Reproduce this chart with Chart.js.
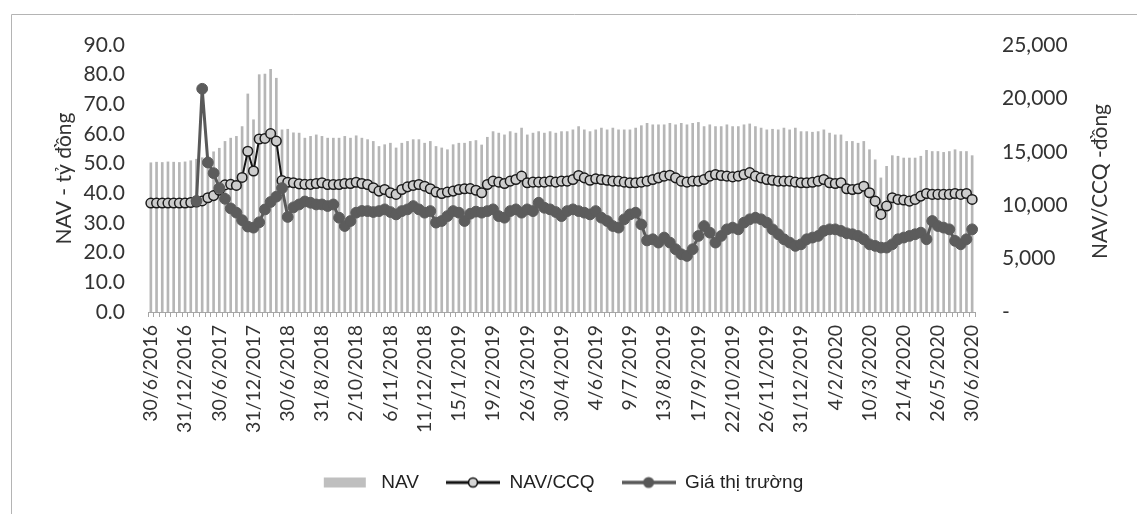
<!DOCTYPE html>
<html>
<head>
<meta charset="utf-8">
<script src="https://cdn.jsdelivr.net/npm/chart.js@4.4.1/dist/chart.umd.min.js"></script>
<style>
  html, body { margin: 0; padding: 0; background: #ffffff; }
  #wrap { position: relative; width: 1137px; height: 514px; overflow: hidden; }
  canvas { display: block; }
</style>
</head>
<body>
<div id="wrap"><canvas id="chart" width="1137" height="514"></canvas></div>
<script>
// Date labels shown on the x axis (one every six observations)
const tickLabels = ['30/6/2016','31/12/2016','30/6/2017','31/12/2017','30/6/2018','31/8/2018',
  '2/10/2018','6/11/2018','11/12/2018','15/1/2019','19/2/2019','26/3/2019','30/4/2019',
  '4/6/2019','9/7/2019','13/8/2019','17/9/2019','22/10/2019','26/11/2019','31/12/2019',
  '4/2/2020','10/3/2020','21/4/2020','26/5/2020','30/6/2020'];
const pointsPerLabel = 6;

// NAV (tỷ đồng)
const nav = [
  50.3, 50.5, 50.4, 50.6, 50.5, 50.4, 50.6, 51.0,
  51.5, 52.0, 52.4, 54.0, 55.2, 57.5, 58.6, 59.2, 62.5, 73.5, 64.8, 80.0, 80.2, 81.8, 78.8, 61.4, 61.6, 60.4,
  60.3, 58.6, 59.2, 59.7, 59.2, 58.6, 58.6, 58.6, 59.2, 58.6, 59.4, 58.6, 58.1, 57.5, 55.8, 56.4,
  56.9, 55.3, 56.9, 57.5, 58.1, 58.1, 56.9, 57.5, 55.8, 55.3, 54.7, 56.4, 56.9, 56.9, 57.5, 57.8,
  56.3, 58.9, 60.8, 60.3, 59.7, 60.8, 60.3, 62.0, 59.7, 60.3, 60.8, 60.3, 60.8, 60.3, 60.8, 60.8,
  61.4, 62.5, 61.4, 60.8, 61.4, 62.0, 61.4, 62.0, 61.4, 61.4, 61.4, 62.0, 62.8, 63.6,
  63.1, 63.1, 63.1, 63.6, 63.1, 63.6, 63.1, 63.6, 63.9, 62.5, 63.1, 62.5, 62.5, 63.1, 62.5, 62.5,
  63.1, 63.4, 62.5, 62.0, 61.4, 61.6, 61.4, 62.0, 61.4, 62.0, 60.8, 60.8, 60.6, 60.8,
  61.4, 60.3, 59.7, 59.7, 57.5, 57.5, 56.9, 57.5, 54.7, 51.3, 45.2, 49.1, 52.7, 52.5, 51.9, 51.9,
  51.9, 52.5, 54.5, 54.1, 54.1, 53.8, 54.1, 54.7, 54.1, 54.1, 52.7
];

// NAV/CCQ (đồng)
const navPerUnit = [
  10200, 10200, 10200, 10200, 10200, 10200, 10200, 10250,
  10300, 10400, 10700, 10900, 11400, 11900, 11950, 11850, 12600, 15050, 13200, 16200, 16250, 16700, 16000, 12300, 12150, 12100,
  12000, 11950, 11950, 12030, 12100, 11940, 11940, 11940, 12030, 12030, 12150, 12030, 11940, 11630, 11320, 11470,
  11170, 11010, 11470, 11720, 11850, 11940, 11780, 11540, 11230, 11100, 11230, 11320, 11470, 11540, 11550, 11400,
  11170, 11940, 12250, 12160, 12030, 12250, 12410, 12720, 12100, 12160, 12160, 12160, 12250, 12160, 12250, 12250,
  12410, 12780, 12560, 12340, 12470, 12410, 12340, 12250, 12250, 12160, 12100, 12100, 12160, 12250,
  12410, 12560, 12720, 12810, 12560, 12250, 12160, 12250, 12250, 12410, 12720, 12870, 12780, 12720, 12650, 12720,
  12870, 13050, 12720, 12560, 12410, 12340, 12250, 12250, 12250, 12160, 12100, 12100, 12150, 12250,
  12410, 12100, 12030, 12100, 11540, 11470, 11540, 11780, 11170, 10380, 9140, 9920, 10700, 10540, 10480, 10380,
  10540, 10850, 11100, 11010, 11010, 11010, 11010, 11100, 11010, 11100, 10540
];

// Giá thị trường (đồng) – no quote before listing
const marketPrice = [
  null, null, null, null, null, null, null, null,
  10400, 20900, 14000, 13000, 11600, 10600, 9700, 9300, 8600, 8000, 7900, 8400, 9600, 10300, 10800, 11600, 8900, 9800,
  10070, 10350, 10230, 10070, 10070, 9920, 10070, 8830, 8050, 8520, 9300, 9460, 9450, 9360, 9450, 9610,
  9360, 9140, 9450, 9610, 9920, 9610, 9300, 9450, 8370, 8520, 8980, 9450, 9300, 8520, 9200, 9400,
  9300, 9450, 9610, 8980, 8830, 9450, 9610, 9300, 9610, 9450, 10230, 9760, 9610, 9360, 8980, 9450,
  9610, 9450, 9300, 9140, 9450, 8830, 8520, 8050, 7900, 8680, 9140, 9300, 8200, 6700,
  6810, 6500, 6970, 6500, 5880, 5410, 5250, 5880, 7120, 8050, 7430, 6500, 7120, 7740, 7900, 7740,
  8370, 8680, 8830, 8680, 8370, 7740, 7280, 6810, 6500, 6190, 6340, 6810, 6970, 7120,
  7590, 7740, 7740, 7590, 7370, 7280, 7120, 6810, 6340, 6190, 6030, 6030, 6340, 6810, 6970, 7120,
  7280, 7430, 6810, 8520, 8050, 7900, 7740, 6660, 6340, 6810, 7740
];

const seriesNames = ['NAV', 'NAV/CCQ', 'Giá thị trường'];
const leftAxisTitle = 'NAV - tỷ đồng';
const rightAxisTitle = 'NAV/CCQ -đồng';

// One category per observation; only every sixth one carries a date
const categories = nav.map((_, i) => (i % pointsPerLabel === 0 ? tickLabels[i / pointsPerLabel] : ''));

const TEXT = '#333333';
const AXIS_FONT = 'Lato';

// Small legend swatches: a bar block and two line-with-marker symbols
function swatch(kind) {
  const c = document.createElement('canvas');
  c.width = 54; c.height = 14;
  const g = c.getContext('2d');
  if (kind === 'bar') {
    g.fillStyle = '#bfbfbf';
    g.fillRect(6, 2, 42, 10);
  } else if (kind === 'nav') {
    g.strokeStyle = '#111111'; g.lineWidth = 3;
    g.beginPath(); g.moveTo(0, 7); g.lineTo(54, 7); g.stroke();
    g.beginPath(); g.arc(27, 7, 4.5, 0, Math.PI * 2);
    g.fillStyle = '#d6d6d6'; g.fill(); g.lineWidth = 1.6; g.stroke();
  } else {
    g.strokeStyle = '#585858'; g.lineWidth = 3.5;
    g.beginPath(); g.moveTo(0, 7); g.lineTo(54, 7); g.stroke();
    g.beginPath(); g.arc(27, 7, 5.5, 0, Math.PI * 2);
    g.fillStyle = '#585858'; g.fill();
  }
  return c;
}

const frame = {
  id: 'frame',
  beforeDraw(chart) {
    const { ctx } = chart;
    ctx.save();
    ctx.strokeStyle = '#b4b4b4';
    ctx.lineWidth = 1;
    ctx.beginPath();
    ctx.moveTo(11.5, 600); ctx.lineTo(11.5, 14.5); ctx.lineTo(1200, 14.5);
    ctx.stroke();
    ctx.restore();
  }
};

// Right-hand axis title, written bottom-to-top like the left one
const rightTitle = {
  id: 'rightTitle',
  afterDraw(chart) {
    const { ctx, chartArea } = chart;
    ctx.save();
    ctx.translate(1100, (chartArea.top + chartArea.bottom) / 2 + 3);
    ctx.rotate(-Math.PI / 2);
    ctx.font = '21px ' + AXIS_FONT;
    ctx.fillStyle = TEXT;
    ctx.textAlign = 'center';
    ctx.textBaseline = 'middle';
    ctx.fillText(rightAxisTitle, 0, 0);
    ctx.restore();
  }
};

// Nudge the centred legend row slightly to the left
const legendShift = {
  id: 'legendShift',
  afterLayout(chart) {
    if (chart.legend) { chart.legend.left -= 8; chart.legend.right -= 8; }
  }
};

function build() {
  const swatches = [swatch('bar'), swatch('nav'), swatch('market')];
  new Chart(document.getElementById('chart'), {
    type: 'bar',
    data: {
      labels: categories,
      datasets: [
        {
          type: 'bar', label: seriesNames[0], data: nav, yAxisID: 'y',
          backgroundColor: '#b6b6b6', barThickness: 2, order: 3
        },
        {
          type: 'line', label: seriesNames[1], data: navPerUnit, yAxisID: 'y1',
          borderColor: '#141414', borderWidth: 2, tension: 0,
          pointRadius: 4.8, pointBackgroundColor: '#cdcdcd', pointBorderColor: '#1c1c1c',
          pointBorderWidth: 1.5, order: 2
        },
        {
          type: 'line', label: seriesNames[2], data: marketPrice, yAxisID: 'y1',
          borderColor: '#595959', borderWidth: 3, tension: 0,
          pointRadius: 5.4, pointBackgroundColor: '#5c5c5c', pointBorderColor: '#5c5c5c',
          pointBorderWidth: 1, order: 1
        }
      ]
    },
    options: {
      responsive: false,
      animation: false,
      events: [],
      layout: { padding: { left: 0, right: 0, top: 45, bottom: 12 } },
      plugins: {
        tooltip: { enabled: false },
        legend: {
          position: 'bottom',
          labels: {
            usePointStyle: true,
            pointStyleWidth: 54,
            padding: 27,
            color: '#222222',
            font: { family: 'Liberation Sans', size: 19 },
            generateLabels: () => seriesNames.map((name, i) => ({
              text: name, pointStyle: swatches[i], fillStyle: 'transparent',
              strokeStyle: 'transparent', lineWidth: 0, hidden: false, datasetIndex: i,
              fontColor: '#222222'
            }))
          }
        }
      },
      scales: {
        x: {
          type: 'category',
          offset: true,
          grid: { display: true, drawOnChartArea: false, drawTicks: true, tickLength: 5, color: '#a6a6a6', offset: true },
          border: { display: true, color: '#a6a6a6', width: 1 },
          ticks: {
            autoSkip: false, minRotation: 90, maxRotation: 90, padding: 8,
            color: TEXT, font: { family: AXIS_FONT, size: 19.5 }
          },
          afterFit(scale) { scale.height = 134; }
        },
        y: {
          position: 'left',
          min: 0, max: 90,
          grid: { display: false, drawTicks: false },
          border: { display: false },
          ticks: {
            stepSize: 10, padding: 23, color: TEXT,
            font: { family: AXIS_FONT, size: 21 },
            callback: v => v.toFixed(1)
          },
          title: {
            display: true, text: leftAxisTitle, color: TEXT,
            font: { family: AXIS_FONT, size: 21 }, padding: { top: 52, bottom: 0 }
          },
          afterFit(scale) { scale.width = 148; }
        },
        y1: {
          position: 'right',
          min: 0, max: 25000,
          grid: { display: false, drawTicks: false },
          border: { display: false },
          ticks: {
            stepSize: 5000, padding: 27, color: TEXT,
            font: { family: AXIS_FONT, size: 21 },
            callback: v => (v === 0 ? '-' : v.toLocaleString('en-US'))
          },
          afterFit(scale) { scale.width = 162; }
        }
      }
    },
    plugins: [frame, rightTitle, legendShift]
  });
}

Promise.all([
  document.fonts.load('21px Lato'),
  document.fonts.load('19px "Liberation Sans"')
]).then(build, build);
</script>
</body>
</html>
